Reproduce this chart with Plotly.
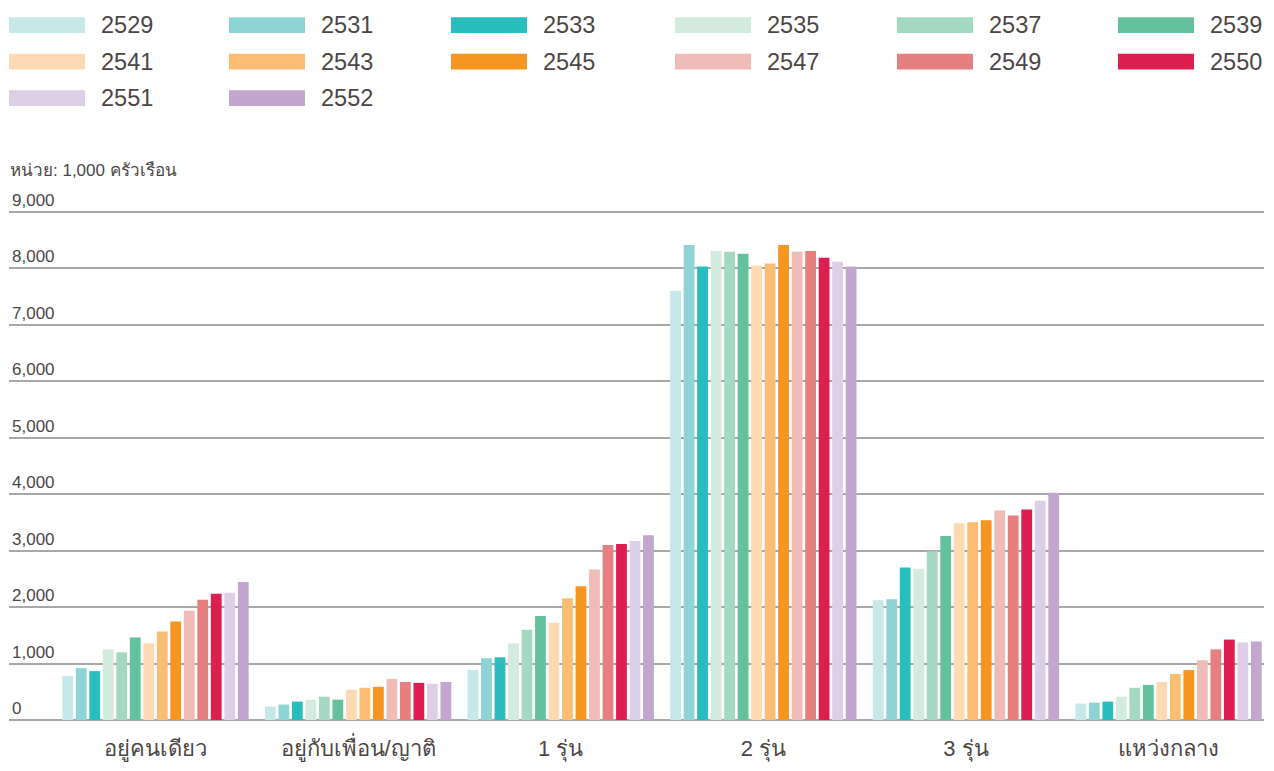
import plotly.graph_objects as go

categories = ["อยู่คนเดียว", "อยู่กับเพื่อน/ญาติ", "1 รุ่น", "2 รุ่น", "3 รุ่น", "แหว่งกลาง"]
years = ["2529", "2531", "2533", "2535", "2537", "2539", "2541", "2543", "2545",
         "2547", "2549", "2550", "2551", "2552"]
colors = ["#c6e8e8", "#8fd4d4", "#2abdbd", "#d3ebdf", "#a3d8c1", "#63c29d", "#fddab3",
          "#fbbc74", "#f6951f", "#f0bcb8", "#e67f7f", "#dc1f50", "#ddd0e6", "#c3a6cd"]

# values per category (1,000 households), one list per category, ordered by year
v_alone = [778, 918, 865, 1251, 1199, 1462, 1357, 1567, 1743, 1936, 2129, 2234, 2251, 2444]
v_friends = [238, 273, 326, 360, 413, 360, 535, 570, 587, 727, 674, 657, 640, 674]
v_gen1 = [884, 1093, 1110, 1355, 1599, 1843, 1721, 2157, 2366, 2663, 3099, 3116, 3169, 3273]
v_gen2 = [7595, 8410, 8029, 8306, 8289, 8254, 8046, 8081, 8410, 8289, 8306, 8185, 8116, 8029]
v_gen3 = [2122, 2140, 2698, 2680, 2988, 3256, 3483, 3500, 3535, 3709, 3622, 3727, 3884, 4023]
v_skip = [291, 308, 326, 413, 570, 622, 674, 814, 884, 1058, 1250, 1424, 1372, 1390]

by_category = [v_alone, v_friends, v_gen1, v_gen2, v_gen3, v_skip]

y_ticks = [0, 1000, 2000, 3000, 4000, 5000, 6000, 7000, 8000, 9000]
y_ticktext = ["0", "1,000", "2,000", "3,000", "4,000", "5,000", "6,000", "7,000", "8,000", "9,000"]
unit_label = "หน่วย: 1,000 ครัวเรือน"

FONT = "Liberation Sans, Arial, DejaVu Sans, sans-serif"
TXT = "#4d4646"

W, H = 1258, 755
L, R, T, B = 1, 2, 181, 36
PW, PH = W - L - R, H - T - B


def px_x(px):
    return (px - L) / PW


def px_y(py):
    return (H - B - py) / PH


fig = go.Figure()
for i, (yr, col) in enumerate(zip(years, colors)):
    fig.add_trace(go.Bar(
        name=yr,
        x=categories,
        y=[vals[i] for vals in by_category],
        marker=dict(color=col, line=dict(width=0)),
        showlegend=False,
    ))

# custom legend (wide swatches) built from years/colors
col_x = [1, 221, 443, 667, 889, 1110]
row_y = [15, 52, 89]
shapes = []
annotations = []
for i, (yr, col) in enumerate(zip(years, colors)):
    r, c = divmod(i, 6)
    x0 = col_x[c]
    yc = row_y[r]
    shapes.append(dict(type="rect", xref="paper", yref="paper",
                       x0=px_x(x0), x1=px_x(x0 + 76),
                       y0=px_y(yc + 8), y1=px_y(yc - 8),
                       fillcolor=col, line=dict(width=0), layer="above"))
    annotations.append(dict(xref="paper", yref="paper", x=px_x(x0 + 90), y=px_y(yc),
                            text=yr, showarrow=False, xanchor="left", yanchor="middle",
                            font=dict(size=23.5, color=TXT, family=FONT)))

annotations.append(dict(xref="paper", yref="paper", x=px_x(0), y=px_y(162),
                        text=unit_label, showarrow=False, xanchor="left", yanchor="middle",
                        font=dict(size=17, color=TXT, family=FONT)))

fig.update_layout(
    width=W, height=H,
    margin=dict(l=L, r=R, t=T, b=B),
    paper_bgcolor="white", plot_bgcolor="white",
    barmode="group",
    bargap=0.067,
    bargroupgap=0.2,
    font=dict(family=FONT, color=TXT),
    shapes=shapes,
    annotations=annotations,
    xaxis=dict(
        range=[-0.723, 5.471],
        showgrid=False, zeroline=False, showline=False,
        ticks="", ticklabelstandoff=13,
        tickfont=dict(size=22, color=TXT, family=FONT),
    ),
    yaxis=dict(
        range=[0, 9402],
        tickvals=y_ticks, ticktext=y_ticktext,
        ticklabelposition="inside top",
        showgrid=True, gridcolor="#a8a8a8", gridwidth=1.5,
        zeroline=True, zerolinecolor="#a8a8a8", zerolinewidth=1.5,
        showline=False, ticks="",
        tickfont=dict(size=17, color=TXT, family=FONT),
    ),
)

fig.write_html("out.html")
